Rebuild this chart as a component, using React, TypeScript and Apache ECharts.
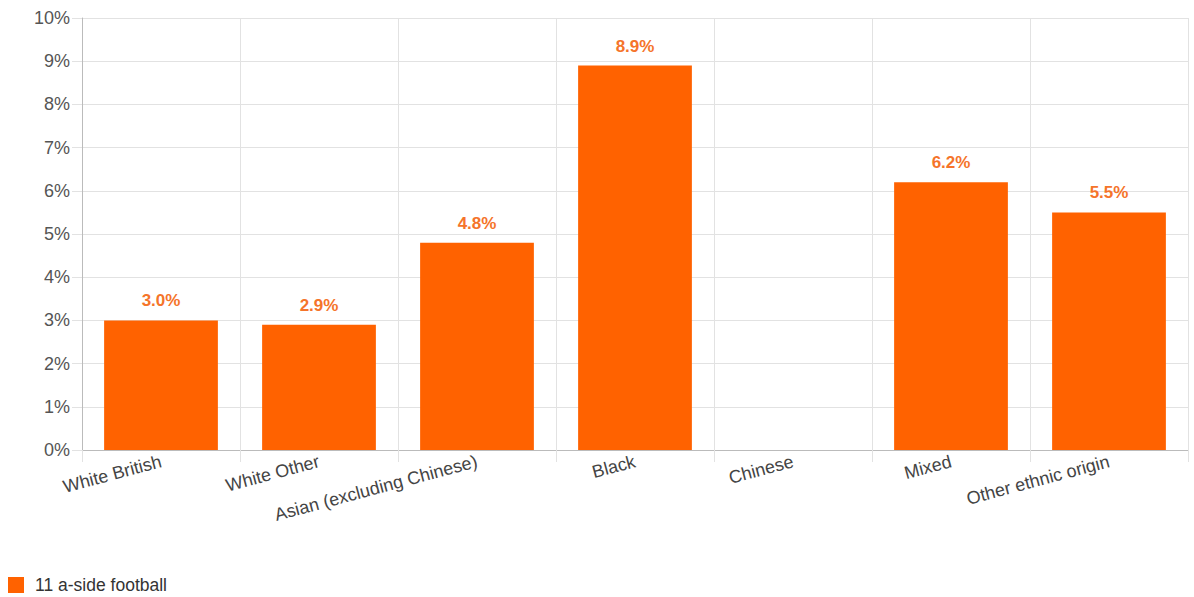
import React, { useEffect, useRef } from "react";
import * as echarts from "echarts";

const categories = [
  "White British",
  "White Other",
  "Asian (excluding Chinese)",
  "Black",
  "Chinese",
  "Mixed",
  "Other ethnic origin",
];
const values: (number | null)[] = [3.0, 2.9, 4.8, 8.9, null, 6.2, 5.5];
const seriesName = "11 a-side football";

export default function App() {
  const ref = useRef<HTMLDivElement>(null);
  useEffect(() => {
    if (!ref.current) return;
    const chart = echarts.init(ref.current, undefined, { renderer: "svg" });
    const font = "Liberation Sans, Arial, sans-serif";
    chart.setOption({
      animation: false,
      textStyle: { fontFamily: font },
      grid: { left: 82, right: 6, top: 18, bottom: 147, containLabel: false },
      legend: {
        left: 8,
        bottom: 3,
        padding: 0,
        itemWidth: 16,
        itemHeight: 16,
        itemGap: 10,
        icon: "rect",
        textStyle: {
          fontSize: 17.5,
          color: "#333",
          fontFamily: font,
          padding: [0, 0, 0, 6],
        },
        data: [seriesName],
      },
      xAxis: {
        type: "category",
        data: categories,
        axisLine: { lineStyle: { color: "#bbb" } },
        axisTick: { show: true, length: 12, lineStyle: { color: "#e2e2e2" } },
        splitLine: { show: true, lineStyle: { color: "#e2e2e2" } },
        axisLabel: {
          interval: 0,
          rotate: 15,
          fontSize: 18,
          color: "#444",
          margin: 11,
          fontFamily: font,
        },
      },
      yAxis: {
        type: "value",
        min: 0,
        max: 10,
        interval: 1,
        axisLine: { show: true, lineStyle: { color: "#bbb" } },
        axisTick: { show: true, length: 10, lineStyle: { color: "#e2e2e2" } },
        splitLine: { lineStyle: { color: "#e2e2e2" } },
        axisLabel: {
          formatter: "{value}%",
          fontSize: 18,
          color: "#555",
          margin: 12,
          fontFamily: font,
        },
      },
      series: [
        {
          name: seriesName,
          type: "bar",
          data: values,
          barCategoryGap: "28%",
          itemStyle: { color: "#FF6200" },
          label: {
            show: true,
            position: "top",
            distance: 11,
            formatter: (p: any) => Number(p.value).toFixed(1) + "%",
            color: "#F5742A",
            fontWeight: "bold",
            fontSize: 17,
            fontFamily: font,
          },
        },
      ],
    });
    return () => chart.dispose();
  }, []);
  return (
    <div
      ref={ref}
      style={{ position: "absolute", left: 0, top: 0, width: 1194, height: 597 }}
    />
  );
}
